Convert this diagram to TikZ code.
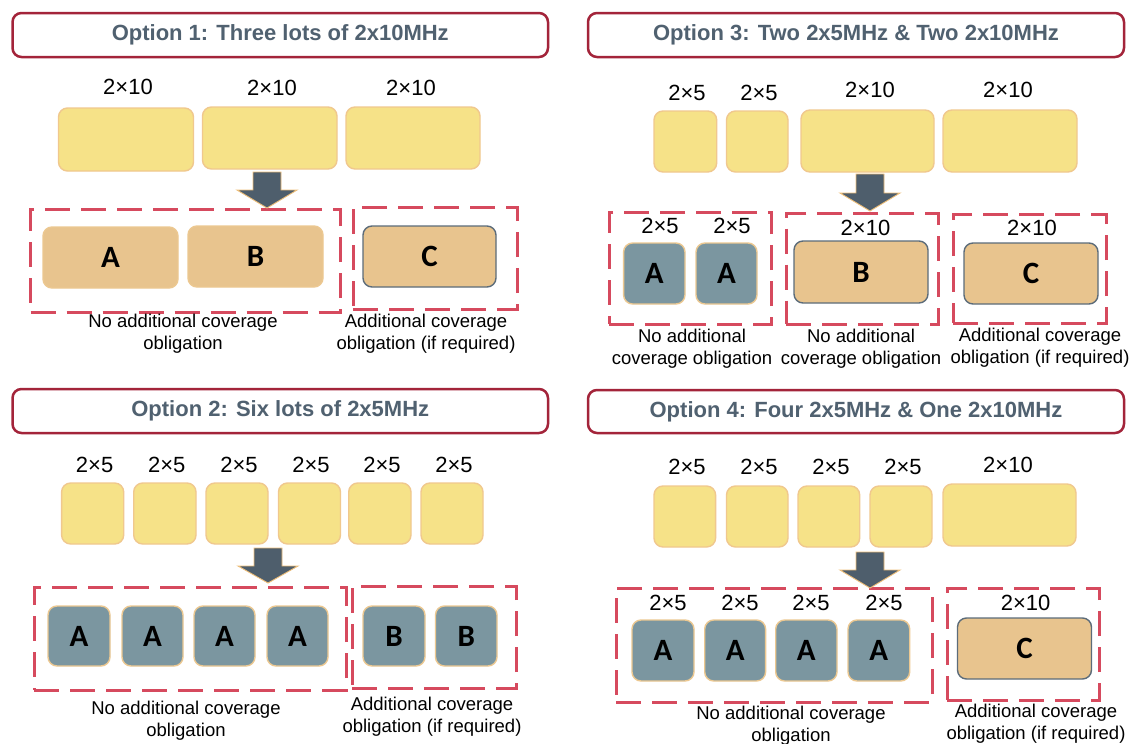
\documentclass[tikz,border=0pt]{standalone}
\usepackage{fontspec}
\setmainfont{Liberation Sans}
\newfontfamily\letterfont{Carlito}
\definecolor{ttlred}{RGB}{163,36,58}
\definecolor{ttltext}{RGB}{80,97,112}
\definecolor{ylw}{RGB}{246,226,136}
\definecolor{ylwline}{RGB}{240,200,142}
\definecolor{tanfill}{RGB}{232,196,142}
\definecolor{tanline}{RGB}{236,200,145}
\definecolor{slate}{RGB}{123,150,160}
\definecolor{slateline}{RGB}{92,108,122}
\definecolor{arrowfill}{RGB}{78,94,108}
\definecolor{arrowline}{RGB}{238,190,120}
\definecolor{dashred}{RGB}{214,74,94}

% box given by its corners: style, name, x1, y1, x2, y2, text
\newcommand\lotbox[7]{%
  \node[#1, minimum width={#5-#3}, minimum height={#6-#4}] (#2) at ({(#3+#5)/2},{(#4+#6)/2}) {#7};}
% block arrow pointing down: name, centre x, top y, head y, tip y
\newcommand\downblock[5]{%
  \coordinate (#1) at (#2,#5);
  \draw[blockarrow] ({#2-14},#3) -- ({#2+14},#3) -- ({#2+14},#4) -- ({#2+30},#4)
    -- (#1) -- ({#2-30},#4) -- ({#2-14},#4) -- cycle;}

\tikzset{
  plainbox/.style={inner sep=0pt, outer sep=0pt},
  titlebox/.style={plainbox, draw=ttlred, line width=2.5pt, rounded corners=9pt, fill=white,
    font=\bfseries\fontsize{22}{26}\selectfont, text=ttltext},
  ylot/.style={plainbox, draw=ylwline, line width=1.4pt, fill=ylw, rounded corners=9pt},
  tanlot/.style={plainbox, draw=tanline, line width=1.4pt, fill=tanfill, rounded corners=9pt,
    font=\letterfont\bfseries\fontsize{31}{34}\selectfont},
  tanedge/.style={tanlot, draw=slateline},
  slatelot/.style={plainbox, draw=tanline, line width=1.4pt, fill=slate, rounded corners=9pt,
    font=\letterfont\bfseries\fontsize{31}{34}\selectfont},
  grpbox/.style={plainbox, draw=dashred, line width=3pt, dash pattern=on 25pt off 11pt},
  lottag/.style={plainbox, font=\fontsize{22}{26}\selectfont},
  captext/.style={plainbox, align=center, font=\fontsize{18.5}{22}\selectfont},
  blockarrow/.style={fill=arrowfill, draw=arrowline, line width=0.9pt, line join=miter},
}

\begin{document}
\begin{tikzpicture}[x=1pt, y=-1pt]
\clip (0,0) rectangle (1138,744);
\fill[white] (0,0) rectangle (1138,744);

% ---------------- Option 1 ----------------
\lotbox{titlebox}{t1}{12.5}{13}{548}{57}{Option 1: Three lots of 2x10MHz}
\node[lottag] (a1l1) at (128,87) {2×10};
\node[lottag] (a1l2) at (272,88) {2×10};
\node[lottag] (a1l3) at (411,88) {2×10};
\lotbox{ylot}{a1y1}{58.5}{108}{193.5}{171}{}
\lotbox{ylot}{a1y2}{202.5}{107}{337}{169}{}
\lotbox{ylot}{a1y3}{346}{107}{480}{169}{}
\lotbox{grpbox}{a1g1}{30.5}{209}{340.5}{312}{}
\lotbox{grpbox}{a1g2}{353}{207}{517}{309}{}
\lotbox{tanlot}{a1A}{43}{227}{178}{288}{A}
\lotbox{tanlot}{a1B}{188}{226}{323}{287}{B}
\lotbox{tanedge}{a1C}{363}{226}{496}{287}{C}
\node[captext] (a1c1) at (183,334) {No additional coverage\\obligation};
\node[captext] (a1c2) at (426,334) {Additional coverage\\obligation (if required)};
\downblock{a1tip}{267}{172}{190}{208}

% ---------------- Option 3 ----------------
\lotbox{titlebox}{t3}{588}{13}{1124}{57}{Option 3: Two 2x5MHz \& Two 2x10MHz}
\node[lottag] (c1l1) at (687,93) {2×5};
\node[lottag] (c1l2) at (759,93) {2×5};
\node[lottag] (c1l3) at (870,90) {2×10};
\node[lottag] (c1l4) at (1008,90) {2×10};
\lotbox{ylot}{c1y1}{654}{111}{716.7}{172}{}
\lotbox{ylot}{c1y2}{726.5}{111}{788}{172}{}
\lotbox{ylot}{c1y3}{801}{110}{934}{172}{}
\lotbox{ylot}{c1y4}{943}{110}{1077}{172}{}
\lotbox{grpbox}{c1g1}{609}{212}{771}{324}{}
\lotbox{grpbox}{c1g2}{786}{213}{938.7}{324}{}
\lotbox{grpbox}{c1g3}{953}{214}{1106}{323}{}
\node[lottag] (c1m1) at (660,226) {2×5};
\node[lottag] (c1m2) at (732,226) {2×5};
\node[lottag] (c1m3) at (865.5,228) {2×10};
\node[lottag] (c1m4) at (1032,228) {2×10};
\lotbox{slatelot}{c1A1}{623.6}{243}{685}{304}{A}
\lotbox{slatelot}{c1A2}{696}{243}{757}{304}{A}
\lotbox{tanedge}{c1B}{794}{241}{928}{303}{B}
\lotbox{tanedge}{c1C}{964}{243}{1098}{304}{C}
\node[captext] (c1c1) at (692,349) {No additional\\coverage obligation};
\node[captext] (c1c2) at (861,349) {No additional\\coverage obligation};
\node[captext] (c1c3) at (1040,348) {Additional coverage\\obligation (if required)};
\downblock{c1tip}{870}{174}{193}{211}

% ---------------- Option 2 ----------------
\lotbox{titlebox}{t2}{12.5}{389}{548}{433}{Option 2: Six lots of 2x5MHz}
\foreach \i/\x in {1/94.6,2/166.7,3/239,4/311,5/382,6/454}{
  \node[lottag] (b1l\i) at (\x,465) {2×5};
}
\foreach \i/\xa/\xb in {1/61.6/123.7,2/133.7/196,3/206/268,4/278.5/340.5,5/348.7/411,6/421/483}{
  \lotbox{ylot}{b1y\i}{\xa}{483}{\xb}{544}{}
}
\lotbox{grpbox}{b1g1}{34}{587}{346}{690}{}
\lotbox{grpbox}{b1g2}{352}{586}{516}{688}{}
\foreach \i/\xa/\xb in {1/48/110,2/122/183,3/194/255,4/267/328}{
  \lotbox{slatelot}{b1A\i}{\xa}{606}{\xb}{666}{A}
}
\lotbox{slatelot}{b1B1}{363}{606}{425}{666}{B}
\lotbox{slatelot}{b1B2}{435.5}{606}{497}{666}{B}
\node[captext] (b1c1) at (186,721) {No additional coverage\\obligation};
\node[captext] (b1c2) at (432,717) {Additional coverage\\obligation (if required)};
\downblock{b1tip}{268}{548}{566}{583}

% ---------------- Option 4 ----------------
\lotbox{titlebox}{t4}{588}{390}{1124}{433}{Option 4: Four 2x5MHz \& One 2x10MHz}
\foreach \i/\x in {1/687,2/759,3/831,4/903}{
  \node[lottag] (d1l\i) at (\x,467) {2×5};
}
\node[lottag] (d1l5) at (1008,465) {2×10};
\foreach \i/\xa/\xb in {1/654/715.6,2/726.5/788,3/798/859.7,4/870/932}{
  \lotbox{ylot}{d1y\i}{\xa}{486}{\xb}{547}{}
}
\lotbox{ylot}{d1y5}{943}{484}{1076}{546}{}
\lotbox{grpbox}{d1g1}{616}{588}{932}{702}{}
\lotbox{grpbox}{d1g2}{947}{588}{1099}{700}{}
\foreach \i/\x in {1/668,2/740,3/811,4/884}{
  \node[lottag] (d1m\i) at (\x,603) {2×5};
}
\node[lottag] (d1m5) at (1025.6,603) {2×10};
\foreach \i/\xa/\xb in {1/632/694,2/704.7/765.6,3/775.7/837,4/848/909.7}{
  \lotbox{slatelot}{d1A\i}{\xa}{620}{\xb}{681}{A}
}
\lotbox{tanedge}{d1C}{957.5}{618}{1091.5}{679}{C}
\node[captext] (d1c1) at (791,726) {No additional coverage\\obligation};
\node[captext] (d1c2) at (1036,724) {Additional coverage\\obligation (if required)};
\downblock{d1tip}{870}{552}{570}{588}
\end{tikzpicture}
\end{document}
